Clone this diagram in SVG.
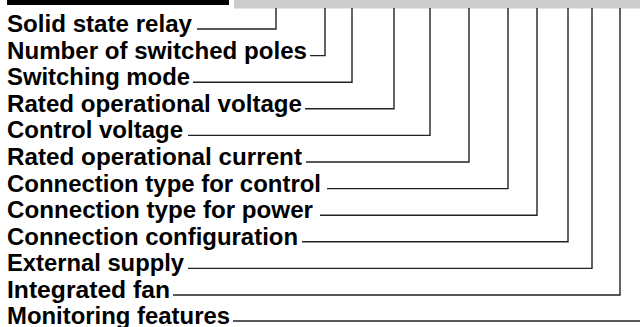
<svg xmlns="http://www.w3.org/2000/svg" width="640" height="327" viewBox="0 0 640 327">
<style>
text{font-family:"Liberation Sans",Arial,sans-serif;font-weight:bold;font-size:23px;fill:#000}
.c{fill:none;stroke:#222;stroke-width:1.4}
</style>
<rect x="0" y="0" width="640" height="327" fill="#fff"/>
<rect id="bar-black" x="7" y="0" width="222" height="5" fill="#000"/>
<rect id="bar-gray" x="234" y="0" width="406" height="8.5" fill="#cccccc"/>
<g id="labels">
<g id="n1"><text x="7" y="32" textLength="185" lengthAdjust="spacingAndGlyphs">Solid state relay</text></g>
<g id="n2"><text x="7" y="58.6" textLength="300" lengthAdjust="spacingAndGlyphs">Number of switched poles</text></g>
<g id="n3"><text x="7" y="85.2" textLength="183" lengthAdjust="spacingAndGlyphs">Switching mode</text></g>
<g id="n4"><text x="7" y="111.8" textLength="295" lengthAdjust="spacingAndGlyphs">Rated operational voltage</text></g>
<g id="n5"><text x="7" y="138.4" textLength="176" lengthAdjust="spacingAndGlyphs">Control voltage</text></g>
<g id="n6"><text x="7" y="165" textLength="295" lengthAdjust="spacingAndGlyphs">Rated operational current</text></g>
<g id="n7"><text x="7" y="191.6" textLength="314" lengthAdjust="spacingAndGlyphs">Connection type for control</text></g>
<g id="n8"><text x="7" y="218.2" textLength="306" lengthAdjust="spacingAndGlyphs">Connection type for power</text></g>
<g id="n9"><text x="7" y="244.8" textLength="291" lengthAdjust="spacingAndGlyphs">Connection configuration</text></g>
<g id="n10"><text x="7" y="271.4" textLength="177" lengthAdjust="spacingAndGlyphs">External supply</text></g>
<g id="n11"><text x="7" y="298" textLength="163" lengthAdjust="spacingAndGlyphs">Integrated fan</text></g>
<g id="n12"><text x="7" y="324" textLength="223" lengthAdjust="spacingAndGlyphs">Monitoring features</text></g>
</g>
<g id="connectors">
<polyline class="c" points="197,29 276,29 276,8"/>
<polyline class="c" points="310,55.6 325,55.6 325,8"/>
<polyline class="c" points="193,82.2 352,82.2 352,8"/>
<polyline class="c" points="305,108.8 394,108.8 394,8"/>
<polyline class="c" points="188,135.4 430,135.4 430,8"/>
<polyline class="c" points="306,162 469,162 469,8"/>
<polyline class="c" points="327,188.6 508,188.6 508,8"/>
<polyline class="c" points="320,215.2 537,215.2 537,8"/>
<polyline class="c" points="302,241.8 568,241.8 568,8"/>
<polyline class="c" points="188,268.4 592,268.4 592,8"/>
<polyline class="c" points="173,295 620,295 620,8"/>
<polyline class="c" points="233,321 640,321"/>
</g>
</svg>
